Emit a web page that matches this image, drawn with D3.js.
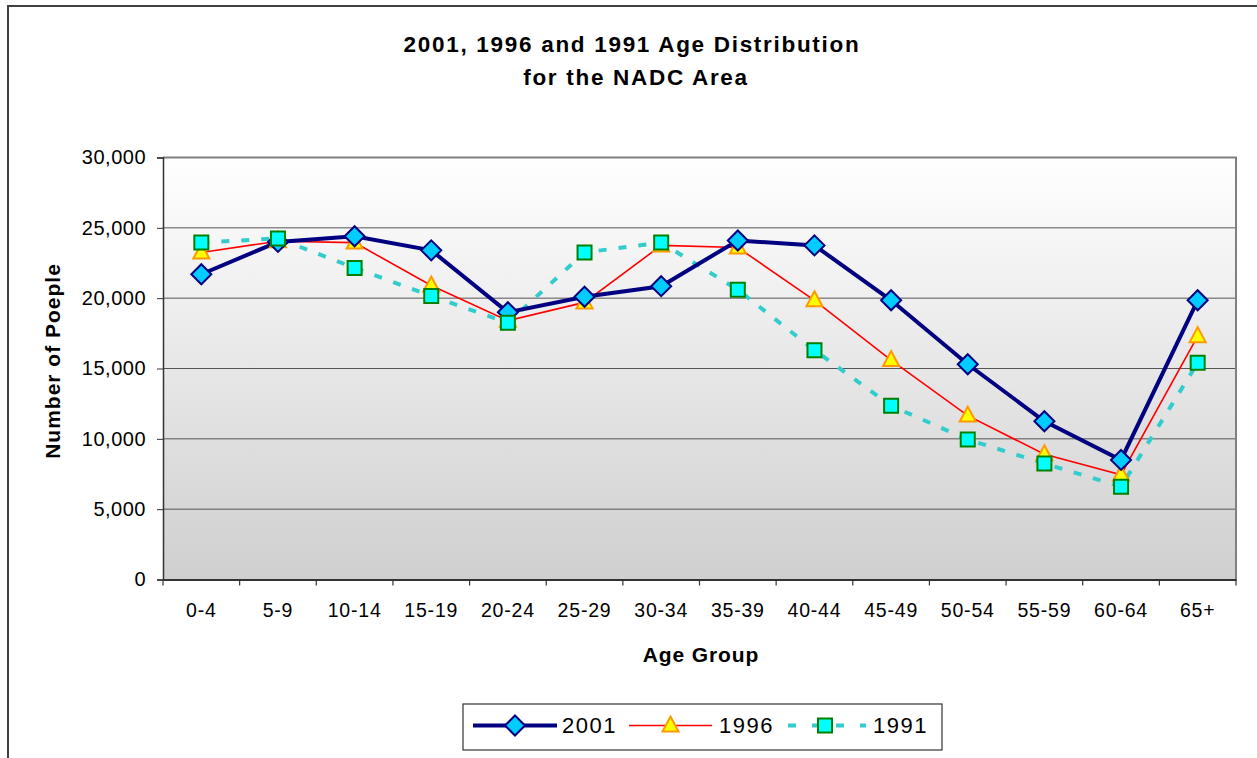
<!DOCTYPE html>
<html><head><meta charset="utf-8">
<script src="https://cdn.jsdelivr.net/npm/d3@7"></script>
<style>body{margin:0;background:#fff;} svg{display:block;font-family:"Liberation Sans",Arial,sans-serif;}</style>
</head><body>
<svg id="c" width="1257" height="758"></svg>
<script>
const categories = ["0-4","5-9","10-14","15-19","20-24","25-29","30-34","35-39","40-44","45-49","50-54","55-59","60-64","65+"];
const values2001 = [21700,24000,24400,23400,19000,20100,20850,24100,23750,19850,15300,11250,8500,19850];
const values1996 = [23250,24050,23950,20900,18400,19700,23750,23600,19850,15600,11650,8900,7450,17300];
const values1991 = [23950,24250,22150,20150,18250,23250,23950,20600,16300,12350,9950,8250,6600,15400];
const yTicks = [0,5000,10000,15000,20000,25000,30000];
const seriesNames = ["2001","1996","1991"];

const svg = d3.select("#c");
const L = 163, R = 1236, T = 157.5, B = 579.5;

// outer chart border
svg.append("rect").attr("x",8).attr("y",6).attr("width",1300).attr("height",800)
  .attr("fill","#fff").attr("stroke","#404040").attr("stroke-width",2);

const x = d3.scaleBand().domain(categories).range([L,R]).padding(0);
const y = d3.scaleLinear().domain([0,30000]).range([B,T]);

const defs = svg.append("defs");
const grad = defs.append("linearGradient").attr("id","bg").attr("x1",0).attr("y1",0).attr("x2",0).attr("y2",1);
grad.append("stop").attr("offset","0%").attr("stop-color","#ffffff");
grad.append("stop").attr("offset","100%").attr("stop-color","#cfcfcf");

svg.append("rect").attr("x",L).attr("y",T).attr("width",R-L).attr("height",B-T).attr("fill","url(#bg)");

// gridlines
svg.append("g").selectAll("line").data(yTicks.filter(d=>d>0&&d<30000)).join("line")
  .attr("x1",L).attr("x2",R).attr("y1",d=>y(d)).attr("y2",d=>y(d))
  .attr("stroke","#555").attr("stroke-width",1);

// plot border top & right
svg.append("path").attr("d",`M${L},${T}H${R}V${B}`).attr("fill","none").attr("stroke","#808080").attr("stroke-width",2);

// y axis
const yAxis = svg.append("g").attr("transform",`translate(${L},0)`)
  .call(d3.axisLeft(y).tickValues(yTicks).tickSize(6).tickPadding(11).tickFormat(d3.format(",")));
yAxis.select(".domain").attr("stroke","#333").attr("stroke-width",1.5);
yAxis.selectAll(".tick line").attr("stroke","#333");
yAxis.selectAll("text").attr("font-size",20).attr("letter-spacing",0.5).attr("fill","#000").attr("font-family","Liberation Sans, Arial, sans-serif");

// x axis
const xAxis = svg.append("g").attr("transform",`translate(0,${B})`)
  .call(d3.axisBottom(x).tickSize(0).tickPadding(24));
xAxis.select(".domain").attr("stroke","#333").attr("stroke-width",2);
xAxis.selectAll("text").attr("font-size",19.5).attr("letter-spacing",0.8).attr("fill","#000").attr("font-family","Liberation Sans, Arial, sans-serif");
// x tick marks at band boundaries
const bounds = categories.map(c=>x(c)).concat([R]);
svg.append("g").selectAll("line").data(bounds).join("line")
  .attr("x1",d=>d).attr("x2",d=>d).attr("y1",B).attr("y2",B+6).attr("stroke","#333").attr("stroke-width",1.2);

const cx = c => x(c) + x.bandwidth()/2;

// lines
const line = vals => d3.line().x((d,i)=>cx(categories[i])).y(d=>y(d))(vals);
svg.append("path").attr("d",line(values1991)).attr("fill","none").attr("stroke","#33CCCC").attr("stroke-width",4).attr("stroke-dasharray","8,12");
svg.append("path").attr("d",line(values1996)).attr("fill","none").attr("stroke","#FF0000").attr("stroke-width",1.6);
svg.append("path").attr("d",line(values2001)).attr("fill","none").attr("stroke","#000080").attr("stroke-width",4);

// markers
const diamond = "M0,-10L10,0L0,10L-10,0Z";
const triangle = "M0,-9L8,6L-8,6Z";
const square = "M-7,-7H7V7H-7Z";
function markers(vals, path, fill, stroke, sw){
  svg.append("g").selectAll("path").data(vals).join("path")
    .attr("transform",(d,i)=>`translate(${cx(categories[i])},${y(d)})`)
    .attr("d",path).attr("fill",fill).attr("stroke",stroke).attr("stroke-width",sw);
}
markers(values1996, triangle, "#FFFF00", "#FF9900", 2);
markers(values2001, diamond, "#00CCFF", "#000080", 2);
markers(values1991, square, "#00FFFF", "#008000", 2);

// titles
const title = svg.append("text").attr("text-anchor","middle").attr("font-weight","bold").attr("font-size",22.5).attr("letter-spacing",1.7).attr("fill","#000");
title.append("tspan").attr("x",632).attr("y",52).text("2001, 1996 and 1991 Age Distribution");
title.append("tspan").attr("x",636).attr("y",85).text("for the NADC Area");

svg.append("text").attr("x",701).attr("y",662).attr("text-anchor","middle").attr("font-weight","bold").attr("font-size",21).attr("letter-spacing",0.9).text("Age Group");
svg.append("text").attr("transform","translate(60,361) rotate(-90)").attr("text-anchor","middle").attr("font-weight","bold").attr("font-size",21).attr("letter-spacing",1).text("Number of Poeple");

// legend
const lg = svg.append("g");
lg.append("rect").attr("x",463).attr("y",704).attr("width",479).attr("height",46).attr("fill","#fff").attr("stroke","#333").attr("stroke-width",1.2);
const ly = 725.5;
const legendItems = [
  {name:seriesNames[0], x0:473, x1:557, tx:562, stroke:"#000080", sw:4, dash:null, shape:diamond, fill:"#00CCFF", ms:"#000080"},
  {name:seriesNames[1], x0:629, x1:712, tx:719, stroke:"#FF0000", sw:1.6, dash:null, shape:triangle, fill:"#FFFF00", ms:"#FF9900"},
  {name:seriesNames[2], x0:784, x1:866, tx:873, stroke:"#33CCCC", sw:4, dash:"8,16", shape:square, fill:"#00FFFF", ms:"#008000"}
];
legendItems.forEach(it=>{
  const l = lg.append("line").attr("x1",it.x0).attr("x2",it.x1).attr("y1",ly).attr("y2",ly).attr("stroke",it.stroke).attr("stroke-width",it.sw);
  if(it.dash) l.attr("stroke-dasharray",it.dash).attr("stroke-dashoffset",-4);
  lg.append("path").attr("transform",`translate(${(it.x0+it.x1)/2},${ly})`).attr("d",it.shape).attr("fill",it.fill).attr("stroke",it.ms).attr("stroke-width",2);
  lg.append("text").attr("x",it.tx).attr("y",ly+7).attr("font-size",22).attr("letter-spacing",1.5).attr("fill","#000").text(it.name);
});
</script>
</body></html>
